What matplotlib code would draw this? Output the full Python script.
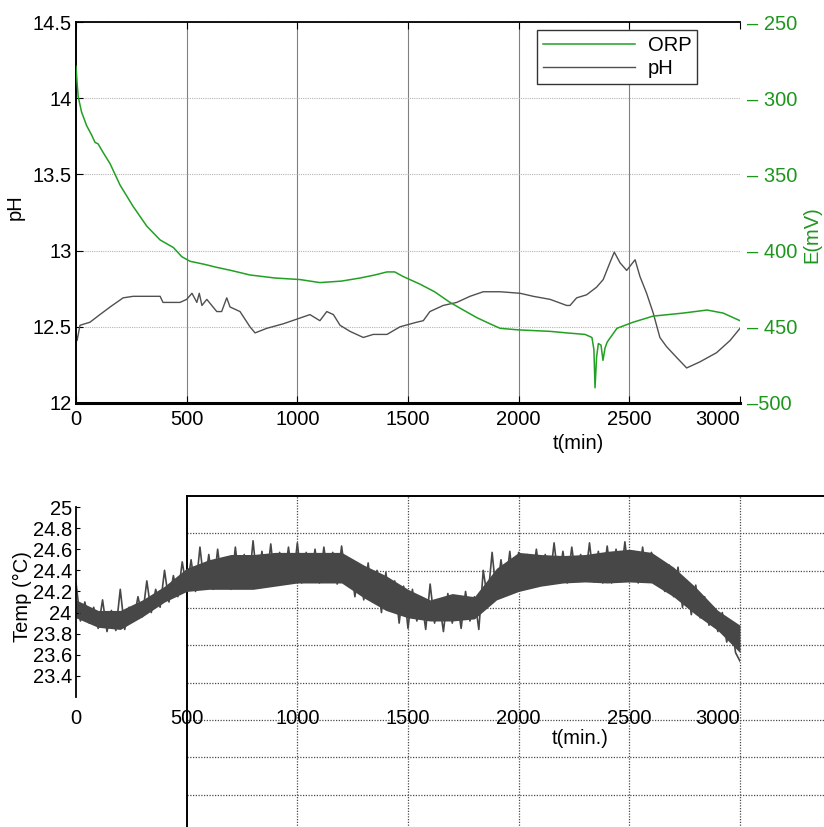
import numpy as np
import matplotlib.pyplot as plt

plt.rcParams['font.family'] = ['Liberation Sans', 'DejaVu Sans']

# ORP (mV)
orp_t = [0, 5, 10, 25, 48, 70, 86, 100, 120, 154,
         199, 258, 320, 380, 440, 478, 515, 580, 636, 700,
         786, 900, 1012, 1102, 1200, 1283, 1350, 1405, 1440, 1478,
         1554, 1620, 1690, 1750, 1811, 1870, 1916, 1997, 2142, 2217,
         2300, 2331, 2340, 2345, 2352, 2360, 2372, 2381, 2390, 2400,
         2444, 2517, 2607, 2743, 2851, 2924, 3000]
orp_mv = [-279, -290, -299, -309, -318, -324, -329, -330, -335, -343,
          -357, -371, -384, -393, -398, -404, -407, -409, -411, -413,
          -416, -418, -419, -421, -420, -418, -416, -414, -414, -417,
          -422, -427, -434, -439, -444, -448, -451, -452, -453, -454,
          -455, -457, -465, -490, -470, -461, -462, -472, -464, -460,
          -451, -447, -443, -441, -439, -441, -446]

# pH
ph_t = [0, 5, 18, 63, 108, 154, 213, 258, 380, 393,
        470, 500, 524, 546, 557, 569, 591, 636, 658, 681,
        696, 741, 786, 809, 862, 937, 997, 1057, 1102, 1133,
        1163, 1193, 1238, 1298, 1343, 1405, 1464, 1539, 1569, 1599,
        1659, 1720, 1780, 1840, 1916, 2006, 2066, 2142, 2217, 2232,
        2262, 2307, 2352, 2382, 2412, 2432, 2458, 2488, 2526, 2548,
        2578, 2608, 2638, 2668, 2713, 2759, 2819, 2894, 2955, 3000]
ph_val = [12.46, 12.41, 12.51, 12.53, 12.58, 12.63, 12.69, 12.70, 12.70, 12.66,
          12.66, 12.68, 12.72, 12.66, 12.72, 12.64, 12.68, 12.60, 12.60, 12.69,
          12.63, 12.60, 12.50, 12.46, 12.49, 12.52, 12.55, 12.58, 12.54, 12.60,
          12.58, 12.51, 12.47, 12.43, 12.45, 12.45, 12.50, 12.53, 12.54, 12.60,
          12.64, 12.66, 12.70, 12.73, 12.73, 12.72, 12.70, 12.68, 12.64, 12.64,
          12.69, 12.71, 12.76, 12.81, 12.92, 12.99, 12.92, 12.87, 12.94, 12.83,
          12.72, 12.59, 12.43, 12.37, 12.30, 12.23, 12.27, 12.33, 12.41, 12.49]

# Temperature: readings every 20 min (noisy trace)
temp_t = np.arange(0, 3001, 20)
temp_val = [24.28, 23.92, 24.10, 23.90, 24.05, 23.85, 24.12, 23.82, 24.02, 23.83,
            24.22, 23.84, 24.05, 23.92, 24.15, 23.96, 24.30, 24.00, 24.22, 24.05,
            24.40, 24.10, 24.35, 24.15, 24.48, 24.22, 24.50, 24.20, 24.62, 24.25,
            24.55, 24.22, 24.60, 24.25, 24.52, 24.22, 24.62, 24.25, 24.55, 24.24,
            24.68, 24.25, 24.58, 24.28, 24.65, 24.26, 24.57, 24.30, 24.62, 24.28,
            24.66, 24.28, 24.57, 24.30, 24.60, 24.28, 24.62, 24.30, 24.57, 24.27,
            24.63, 24.30, 24.50, 24.15, 24.45, 24.12, 24.47, 24.10, 24.40, 24.00,
            24.38, 24.02, 24.30, 23.90, 24.25, 23.85, 24.22, 23.92, 24.15, 23.84,
            24.27, 23.90, 24.12, 23.82, 24.18, 23.90, 24.15, 23.85, 24.20, 23.92,
            24.15, 23.84, 24.40, 24.12, 24.57, 24.15, 24.50, 24.22, 24.58, 24.20,
            24.57, 24.25, 24.55, 24.28, 24.60, 24.27, 24.55, 24.28, 24.66, 24.30,
            24.58, 24.28, 24.62, 24.30, 24.55, 24.30, 24.66, 24.29, 24.58, 24.28,
            24.63, 24.28, 24.60, 24.30, 24.67, 24.30, 24.58, 24.28, 24.62, 24.30,
            24.57, 24.28, 24.50, 24.20, 24.45, 24.15, 24.43, 24.05, 24.30, 23.98,
            24.26, 23.95, 24.15, 23.88, 24.05, 23.82, 24.00, 23.72, 23.92, 23.62,
            23.54]

# dark core of the temperature band (every 100 min)
core_t = np.arange(0, 3001, 100)
core_lo = [23.95, 23.86, 23.84, 23.96, 24.10, 24.20, 24.22, 24.22, 24.22, 24.25,
           24.28, 24.28, 24.28, 24.14, 24.02, 23.95, 23.92, 23.92, 23.94, 24.12,
           24.20, 24.25, 24.28, 24.29, 24.28, 24.29, 24.28, 24.15, 23.98, 23.83,
           23.62]
core_hi = [24.12, 24.02, 24.02, 24.12, 24.25, 24.42, 24.50, 24.55, 24.55, 24.57,
           24.57, 24.57, 24.57, 24.45, 24.35, 24.22, 24.12, 24.18, 24.15, 24.42,
           24.57, 24.55, 24.54, 24.55, 24.58, 24.60, 24.57, 24.43, 24.24, 24.02,
           23.88]

t_ticks = [0, 500, 1000, 1500, 2000, 2500, 3000]
ph_ticks = [12, 12.5, 13, 13.5, 14, 14.5]
ph_labels = ['12', '12.5', '13', '13.5', '14', '14.5']
mv_ticks = [-500, -450, -400, -350, -300, -250]
mv_labels = ['\u2013500', '\u2013 450', '\u2013 400', '\u2013 350', '\u2013 300', '\u2013 250']
temp_ticks = [23.4, 23.6, 23.8, 24.0, 24.2, 24.4, 24.6, 24.8, 25.0]
temp_labels = ['23.4', '23.6', '23.8', '24', '24.2', '24.4', '24.6', '24.8', '25']

green = '#22a022'
green_txt = '#1e961e'
grey = '#505050'
fs = 14.5
W, H = 824.0, 827.0


def px_box(x0, y0, x1, y1):
    # pixel box (from top-left) -> figure fraction rect
    return [x0 / W, 1 - y1 / H, (x1 - x0) / W, (y1 - y0) / H]


fig = plt.figure(figsize=(8.24, 8.27), dpi=100)

# ---------------- top: pH and ORP ----------------
ax1 = fig.add_axes(px_box(76, 22, 740, 403))
ln_ph, = ax1.plot(ph_t, ph_val, color=grey, lw=1.0, label='pH')
ax1.set_xlim(0, 3000)
ax1.set_ylim(12, 14.5)
ax1.set_xticks(t_ticks)
ax1.set_yticks(ph_ticks)
ax1.set_yticklabels(ph_labels)
for x in t_ticks[1:-1]:
    ax1.axvline(x, color='#808080', lw=0.8, zorder=0)
ax1.yaxis.grid(True, color='#b5b5b5', lw=0.8, ls=(0, (1, 1)))
ax1.tick_params(direction='in', top=True, length=5, labelsize=fs)
ax1.tick_params(axis='x', pad=5)
ax1.tick_params(axis='y', pad=3)
ax1.get_xticklabels()[-1].set_ha('right')
ax1.spines['right'].set_visible(False)
ax1.spines['bottom'].set_linewidth(2.2)
ax1.spines['left'].set_linewidth(1.4)
ax1.spines['top'].set_linewidth(1.3)
ax1.set_ylabel('pH', fontsize=fs)
ax1.yaxis.set_label_coords(-0.077, 0.514)
ax1.set_xlabel('t(min)', fontsize=fs, va='center')
ax1.xaxis.set_label_coords(0.756, -0.105)

ax2 = ax1.twinx()
ln_orp, = ax2.plot(orp_t, orp_mv, color=green, lw=1.1, label='ORP')
ax2.set_ylim(-500, -250)
ax2.set_yticks(mv_ticks)
ax2.set_yticklabels(mv_labels, color=green_txt)
ax2.tick_params(length=0, pad=5, labelsize=fs)
for s in ax2.spines.values():
    s.set_visible(False)
ax2.set_ylabel('E(mV)', color=green_txt, fontsize=fs, va='center')
ax2.yaxis.set_label_coords(1.108, 0.441)

ax2.legend([ln_orp, ln_ph], ['ORP', 'pH'], loc='upper left',
           bbox_to_anchor=(0.694, 0.979), fontsize=fs, frameon=True,
           fancybox=False, edgecolor='#333333', framealpha=1,
           handlelength=4.6, handletextpad=0.6, labelspacing=0.2,
           borderpad=0.3, borderaxespad=0)

# ---------------- bottom: temperature ----------------
# offset grid box (starts at t=500, runs off the figure)
axg = fig.add_axes(px_box(186.7, 496, 850.7, 832))
axg.set_xlim(500, 3500)
axg.set_ylim(9, 0)
axg.set_xticks([1000, 1500, 2000, 2500, 3000])
axg.set_yticks(range(1, 9))
axg.grid(True, color='#4a4a4a', lw=0.9, ls=(0, (1, 1.2)))
axg.tick_params(length=0, labelbottom=False, labelleft=False)
axg.spines['right'].set_visible(False)
axg.spines['bottom'].set_visible(False)
axg.spines['left'].set_linewidth(1.4)
axg.spines['top'].set_linewidth(1.4)

ax3 = fig.add_axes(px_box(76, 507, 740, 697))
ax3.patch.set_visible(False)
ax3.fill_between(core_t, core_lo, core_hi, color='#474747', lw=0)
ax3.plot(temp_t, temp_val, color='#474747', lw=1.2)
ax3.set_xlim(0, 3000)
ax3.set_ylim(23.2, 25)
ax3.set_xticks(t_ticks)
ax3.set_yticks(temp_ticks)
ax3.set_yticklabels(temp_labels)
ax3.get_xticklabels()[-1].set_ha('right')
for s in ['right', 'top', 'bottom']:
    ax3.spines[s].set_visible(False)
ax3.spines['left'].set_linewidth(1.3)
ax3.tick_params(axis='x', length=0, pad=9, labelsize=fs)
ax3.tick_params(axis='y', direction='in', length=3, pad=3, labelsize=fs)
ax3.set_ylabel('Temp (\u00b0C)', fontsize=fs, va='center')
ax3.yaxis.set_label_coords(-0.081, 0.526)
ax3.set_xlabel('t(min.)', fontsize=fs, va='center')
ax3.xaxis.set_label_coords(0.759, -0.216)

plt.savefig('out.png', dpi=100)
plt.close()
